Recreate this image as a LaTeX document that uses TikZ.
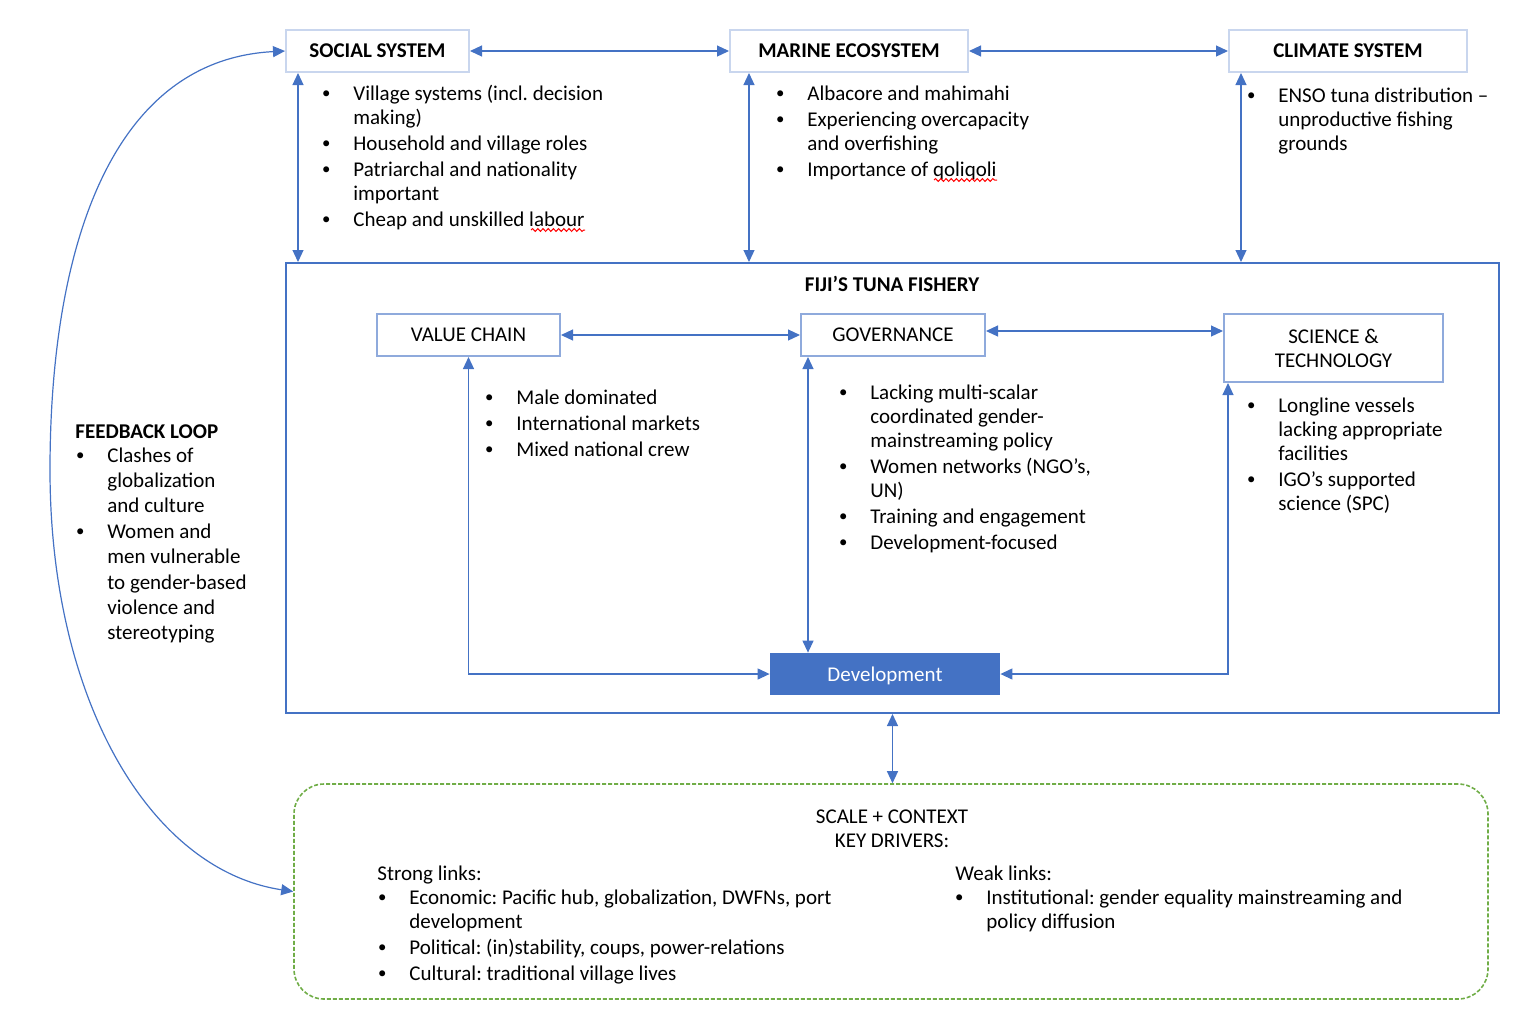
\documentclass[tikz,border=0pt]{standalone}
\usepackage{fontspec}
\setmainfont{Carlito}
\frenchspacing
\usetikzlibrary{arrows.meta,decorations.pathmorphing,calc}
\definecolor{ablue}{HTML}{4472C4}
\definecolor{paleblue}{HTML}{C9D6EE}
\definecolor{midblue}{HTML}{8FAADC}
\definecolor{lgreen}{HTML}{70AD47}
\newcommand\bitem[1]{\par\hangindent=14pt\hangafter=1\noindent\makebox[14pt][l]{\hspace{-1.6pt}\raisebox{0.7pt}{\scalebox{0.8}{•}}}#1}
\newcommand\blist[2]{\parbox[t]{#1}{\setlength\parskip{1pt}#2}}
\begin{document}
\begin{tikzpicture}[x=0.5pt,y=-0.5pt,font=\fontsize{10.5}{12}\selectfont,
  topbox/.style={draw=paleblue, line width=1pt, minimum height=21pt, inner sep=0, font=\fontsize{10.5}{12}\selectfont\bfseries},
  inbox/.style={draw=midblue, line width=1pt, inner sep=0, align=center},
  conn/.style={ablue, line width=0.6pt, {Triangle[length=6pt,width=5.5pt]}-{Triangle[length=6pt,width=5.5pt]}},
  txt/.style={anchor=base west, inner sep=0},
  squig/.style={red, line width=0.5pt, decorate, decoration={snake, amplitude=0.7pt, segment length=2.6pt}}]
\useasboundingbox (0,0) rectangle (1516,1014);
% top boxes
\node[topbox, minimum width=91.5pt] (social) at (377.5,51) {SOCIAL SYSTEM};
\node[topbox, minimum width=119pt] (marine) at (849,51) {MARINE ECOSYSTEM};
\node[topbox, minimum width=119pt] (climate) at (1348,51) {CLIMATE SYSTEM};
% fishery box
\node[draw=ablue, line width=1pt, minimum width=606.5pt, minimum height=225pt, inner sep=0] (fiji) at (892.5,488) {};
\node[anchor=base, inner sep=0, font=\fontsize{10.5}{12}\selectfont\bfseries] (fijit) at (892,291) {FIJI’S TUNA FISHERY};
\node[inbox, minimum width=91.5pt, minimum height=21pt] (vc) at (468.5,335) {VALUE CHAIN};
\node[inbox, minimum width=92pt, minimum height=21pt] (gov) at (893,335) {GOVERNANCE};
\node[inbox, minimum width=109.5pt, minimum height=34pt] (st) at (1333.5,348) {SCIENCE \&\\TECHNOLOGY};
\node[fill=ablue, text=white, minimum width=115pt, minimum height=21pt, text depth=0pt, inner sep=0] (dev) at (885,674) {Development};
% scale box
\node[draw=lgreen, line width=0.8pt, dash pattern=on 2pt off 1pt, rounded corners=15pt, minimum width=597pt, minimum height=107.5pt, inner sep=0] (scale) at (891,891.5) {};

% bullet lists
\node[txt] (soclist) at (325,100) {\blist{300pt}{\bitem{Village systems (incl. decision\newline making)}\bitem{Household and village roles}\bitem{Patriarchal and nationality\newline important}\bitem{Cheap and unskilled labour}}};
\node[txt] (marlist) at (779,100) {\blist{300pt}{\bitem{Albacore and mahimahi}\bitem{Experiencing overcapacity\newline and overfishing}\bitem{Importance of qoliqoli}}};
\node[txt] (clilist) at (1250,102) {\blist{300pt}{\bitem{ENSO tuna distribution –\newline unproductive fishing\newline grounds}}};
\node[txt] (vclist) at (488,404) {\blist{300pt}{\bitem{Male dominated}\bitem{International markets}\bitem{Mixed national crew}}};
\node[txt] (govlist) at (842,399) {\blist{300pt}{\bitem{Lacking multi-scalar\newline coordinated gender-\newline mainstreaming policy}\bitem{Women networks (NGO’s,\newline UN)}\bitem{Training and engagement}\bitem{Development-focused}}};
\node[txt] (stlist) at (1250,412) {\blist{300pt}{\bitem{Longline vessels\newline lacking appropriate\newline facilities}\bitem{IGO’s supported\newline science (SPC)}}};
\node[txt, font=\fontsize{10.5}{12}\selectfont\bfseries] (fbt) at (75,438) {FEEDBACK LOOP};
\node[txt, font=\fontsize{10.5}{12.7}\selectfont] (fblist) at (79,462) {\blist{300pt}{\setlength\parskip{0pt}\bitem{Clashes of\newline globalization\newline and culture}\bitem{Women and\newline men vulnerable\newline to gender-based\newline violence and\newline stereotyping}}};
\node[anchor=base, inner sep=0] (sc1) at (892,823) {SCALE + CONTEXT};
\node[anchor=base, inner sep=0] (sc2) at (892,847) {KEY DRIVERS:};
\node[txt] (strong) at (377,880) {Strong links:};
\node[txt] (stronglist) at (381,904) {\blist{300pt}{\bitem{Economic: Pacific hub, globalization, DWFNs, port\newline development}\bitem{Political: (in)stability, coups, power-relations}\bitem{Cultural: traditional village lives}}};
\node[txt] (weak) at (955,880) {Weak links:};
\node[txt] (weaklist) at (958,904) {\blist{300pt}{\bitem{Institutional: gender equality mainstreaming and\newline policy diffusion}}};

% spelling marks
\draw[squig] (531,230) -- (585,230);
\draw[squig] (934,180) -- (997,180);

% connectors
\draw[conn] (social.east) -- (marine.west);
\draw[conn] (marine.east) -- (climate.west);
\draw[conn] (social.west) .. controls (110,60) and (50,250) .. (50,470) .. controls (50,700) and (150,870) .. (scale.west);
\draw[conn] ([xshift=6.5pt]social.south west) -- ([xshift=6.5pt]social.south west |- fiji.north);
\draw[conn] ([xshift=10pt]marine.south west) -- ([xshift=10pt]marine.south west |- fiji.north);
\draw[conn] ([xshift=6.5pt]climate.south west) -- ([xshift=6.5pt]climate.south west |- fiji.north);
\draw[conn] (vc.east) -- (gov.west);
\draw[conn] ([yshift=2pt]gov.east) -- ([yshift=2pt]gov.east -| st.west);
\draw[conn] (vc.south) |- (dev.west);
\draw[conn] ([xshift=4pt]gov.south west) -- ([xshift=4pt]gov.south west |- dev.north);
\draw[conn] ([xshift=2.5pt]st.south west) |- (dev.east);
\draw[conn] (fiji.south) -- (fiji.south |- scale.north);
\end{tikzpicture}
\end{document}
